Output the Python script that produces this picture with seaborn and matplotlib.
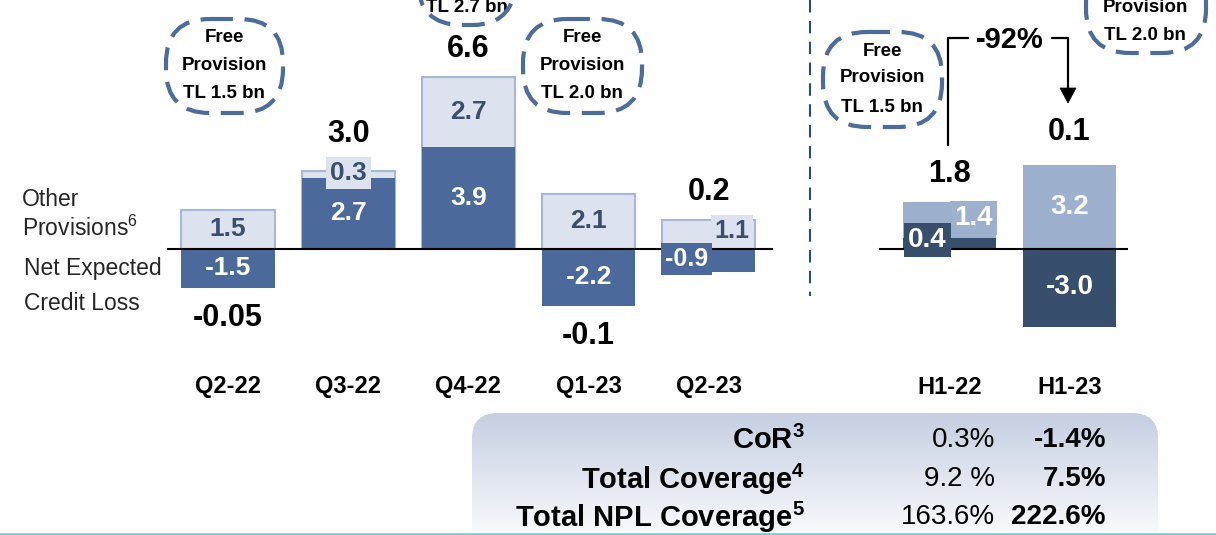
import matplotlib
matplotlib.use("Agg")
import matplotlib.pyplot as plt
import matplotlib.transforms as mtransforms
from matplotlib.patches import FancyBboxPatch, Rectangle, Polygon
from matplotlib.lines import Line2D
import numpy as np
import pandas as pd
import seaborn as sns

# data (TL bn)
periods = ["Q2-22", "Q3-22", "Q4-22", "Q1-23", "Q2-23", "H1-22", "H1-23"]
other_provisions = [1.5, 0.3, 2.7, 2.1, 1.1, 1.4, 3.2]
net_ecl = [-1.5, 2.7, 3.9, -2.2, -0.9, 0.4, -3.0]
total_labels = ["-0.05", "3.0", "6.6", "-0.1", "0.2", "1.8", "0.1"]
free_provision = [1.5, 2.7, 2.0, 1.5, 2.0]
change_label = "-92%"
table_rows = ["CoR$^3$", "Total Coverage$^4$", "Total NPL Coverage$^5$"]
h1_22_ratios = ["0.3%", "9.2 %", "163.6%"]
h1_23_ratios = ["-1.4%", "7.5%", "222.6%"]

Q_DARK = "#4B6A9B"
Q_LIGHT = "#DCE3EE"
Q_EDGE = "#A5B8D4"
H_DARK = "#384E6D"
H_LIGHT = "#9DB0CD"
TXT_DARK = "#3A4E6E"
CALLOUT = "#4C6C9C"

sns.set_theme(style="white")
plt.rcParams["font.family"] = ["Liberation Sans", "DejaVu Sans"]
plt.rcParams["mathtext.fontset"] = "custom"
plt.rcParams["mathtext.rm"] = "Liberation Sans"
plt.rcParams["mathtext.bf"] = "Liberation Sans:bold"
plt.rcParams["mathtext.default"] = "regular"

W_PX, H_PX = 1216, 535
fig = plt.figure(figsize=(12.16, 5.35), dpi=100)
ax = fig.add_axes([0, 0, 1, 1])
px = mtransforms.Affine2D().scale(1, -1).translate(0, H_PX)  # pixel coords from top-left

df = pd.DataFrame({"period": periods, "other": other_provisions, "ecl": net_ecl})
df["top"] = df["other"] + df["ecl"].clip(lower=0)
df["half"] = df["period"].str.startswith("H")
order = periods[:5] + [" "] + periods[5:]
W = 0.775

q = df[~df["half"]]
h = df[df["half"]]
sns.barplot(data=q, x="period", y="top", order=order, color=Q_LIGHT, saturation=1,
            width=W, edgecolor=Q_EDGE, linewidth=1.5, errorbar=None, ax=ax, zorder=2)
sns.barplot(data=q, x="period", y="ecl", order=order, color=Q_DARK, saturation=1,
            width=W, linewidth=0, errorbar=None, ax=ax, zorder=3)
sns.barplot(data=h, x="period", y="top", order=order, color=H_LIGHT, saturation=1,
            width=W, linewidth=0, errorbar=None, ax=ax, zorder=2)
sns.barplot(data=h, x="period", y="ecl", order=order, color=H_DARK, saturation=1,
            width=W, linewidth=0, errorbar=None, ax=ax, zorder=3)

# map data to the slide's pixel grid
x0, dx = 228, 120.2
y0, dy = 248.5, 26.0
ax.set_xlim(-x0 / dx, (W_PX - x0) / dx)
ax.set_ylim(-(H_PX - y0) / dy, y0 / dy)
ax.axis("off")

pos = {p: order.index(p) for p in periods}
ax.hlines(0, pos["Q2-22"] - W / 2 - 0.12, pos["Q2-23"] + W / 2 + 0.15, color="black", lw=1.5, zorder=4)
ax.hlines(0, pos["H1-22"] - W / 2 - 0.2, pos["H1-23"] + W / 2 + 0.1, color="black", lw=1.5, zorder=4)

# segment labels; some sit in offset boxes (px offsets)
boxed = {
    ("Q3-22", "other"): (0, -1, Q_LIGHT),
    ("Q2-23", "other"): (23, -3, Q_LIGHT),
    ("Q2-23", "ecl"): (-22, -1, Q_DARK),
    ("H1-22", "other"): (24, -2, H_LIGHT),
    ("H1-22", "ecl"): (-22, -3, H_DARK),
}
for _, r in df.iterrows():
    i = pos[r["period"]]
    ecl_mid = r["ecl"] / 2
    oth_mid = r["ecl"] + r["other"] / 2 if r["ecl"] > 0 else r["other"] / 2
    for key, val, mid in [("other", r["other"], oth_mid), ("ecl", r["ecl"], ecl_mid)]:
        if r["half"]:
            col, size = "white", 20
        else:
            col, size = (TXT_DARK if key == "other" else "white"), 19
        off = (0, 0)
        bbox = None
        z = 6
        if (r["period"], key) in boxed:
            ox, oy, fc = boxed[(r["period"], key)]
            off = (ox * 0.72, -oy * 0.72)
            bbox = dict(boxstyle="square,pad=0.15", fc=fc, ec="none")
            if r["period"] == "Q2-23":
                size = 18
            if key == "ecl":
                z = 7
        ax.annotate(f"{val:.1f}", (i, mid), xytext=off, textcoords="offset points",
                    ha="center", va="center", fontsize=size, fontweight="bold",
                    color=col, bbox=bbox, zorder=z)

# totals
total_pad = {"Q3-22": 37, "H1-23": 33}
for p, lab in zip(periods, total_labels):
    r = df[df["period"] == p].iloc[0]
    if float(lab) < 0:
        y = min(r["ecl"], 0)
        off = -30
    else:
        y = r["top"]
        off = total_pad.get(p, 28)
    ax.annotate(lab, (pos[p], y), xytext=(0, off * 0.72), textcoords="offset points",
                ha="center", va="center", fontsize=22, fontweight="bold", color="black", zorder=6)

# category labels
bt = mtransforms.blended_transform_factory(ax.transData, px)
for p in periods:
    ax.text(pos[p], 387, p, transform=bt, ha="center", va="center",
            fontsize=17, fontweight="bold", color="black")

# left legend text
ax.text(22, 200, "Other", transform=px, ha="left", va="center", fontsize=16.5)
ax.text(22, 228, "Provisions$^6$", transform=px, ha="left", va="center", fontsize=16.5)
ax.text(24, 268, "Net Expected", transform=px, ha="left", va="center", fontsize=16.5)
ax.text(24, 304, "Credit Loss", transform=px, ha="left", va="center", fontsize=16.5)

# free provision callouts
callouts = [
    (166, 19, 283, 113, 224, (38, 66, 94)),
    (418, -72, 517, 25, 467, (-48, -20, 8)),
    (523, 19, 642, 113, 582, (38, 66, 94)),
    (823, 32, 942, 127, 882, (52, 78, 107)),
    (1086, -42, 1206, 53, 1145, (-21, 7, 36)),
]
for (bx0, by0, bx1, by1, cx, ys), v in zip(callouts, free_provision):
    box = FancyBboxPatch((bx0, by0), bx1 - bx0, by1 - by0,
                         boxstyle="round,pad=0,rounding_size=44", transform=px,
                         fc="none", ec=CALLOUT, lw=3, ls=(0, (5.5, 2.8)), zorder=8)
    ax.add_patch(box)
    for line, yy in zip(["Free", "Provision", f"TL {v:.1f} bn"], ys):
        ax.text(cx, yy, line, transform=px, ha="center", va="center",
                fontsize=13.5, fontweight="bold", color="black", zorder=7)

# separator
ax.add_line(Line2D([810, 810], [0, 296], transform=px, color="#2E4A7A", lw=1.5,
                   ls=(0, (6, 4))))

# -92% bracket
ax.add_line(Line2D([948, 948, 968], [145, 38, 38], transform=px, color="black", lw=1.6))
ax.add_line(Line2D([1052, 1068, 1068], [38, 38, 90], transform=px, color="black", lw=1.6))
ax.add_patch(Polygon([[1060, 88], [1076, 88], [1068, 103]], closed=True, transform=px,
                     fc="black", ec="black", lw=0.5))
ax.text(1010, 40, change_label, transform=px, ha="center", va="center",
        fontsize=21, fontweight="bold", color="black")

# ratio table with gradient background
panel = FancyBboxPatch((472, 413), 686, 160, boxstyle="round,pad=0,rounding_size=26",
                       transform=px, fc="none", ec="none")
ax.add_patch(panel)
c_top = np.array(matplotlib.colors.to_rgb("#C5CFE1"))
c_bot = np.array(matplotlib.colors.to_rgb("#F8F9FC"))
n = 60
for k in range(n):
    t = k / (n - 1)
    yy = 413 + (535 - 413) * k / n
    strip = Rectangle((472, yy), 686, (535 - 413) / n + 1, transform=px,
                      fc=c_top * (1 - t) + c_bot * t, ec="none", zorder=0.5)
    ax.add_patch(strip)
    strip.set_clip_path(panel)

for lab, a, b, yy in zip(table_rows, h1_22_ratios, h1_23_ratios, [440, 479, 517]):
    ax.text(805, yy, lab, transform=px, ha="right", va="center", fontsize=21,
            fontweight="bold", color="black")
    ax.text(995, yy, a, transform=px, ha="right", va="center", fontsize=20, color="black")
    ax.text(1106, yy, b, transform=px, ha="right", va="center", fontsize=20,
            fontweight="bold", color="black")

ax.add_line(Line2D([0, W_PX], [533.5, 533.5], transform=px, color="#5FCDEB", lw=1.8))

fig.savefig("out.png", dpi=100)
